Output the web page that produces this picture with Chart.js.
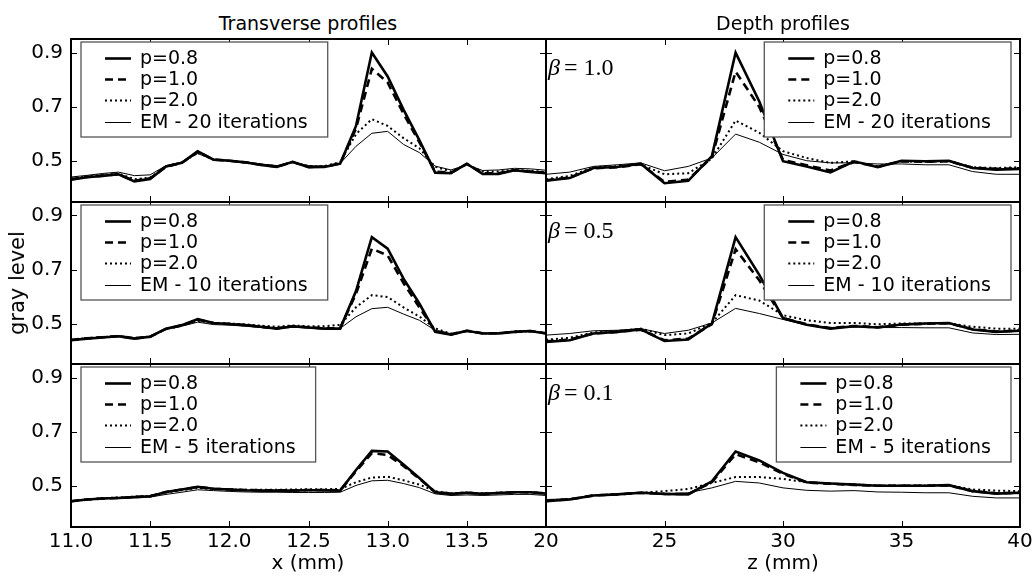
<!DOCTYPE html>
<html>
<head>
<meta charset="utf-8">
<script src="https://cdn.jsdelivr.net/npm/chart.js@4.4.1/dist/chart.umd.min.js"></script>
<style>
  body { margin: 0; background: #fff; }
  #fig { position: relative; width: 1036px; height: 575px; background: #fff; overflow: hidden;
         font-family: 'DejaVu Sans', sans-serif; color: #000; }
  #fig canvas { position: absolute; }
  .lbl { position: absolute; transform: translate(-50%, -50%); white-space: nowrap; }
</style>
</head>
<body>
<div id="fig">
  <canvas id="c0"></canvas><canvas id="c1"></canvas>
  <canvas id="c2"></canvas><canvas id="c3"></canvas>
  <canvas id="c4"></canvas><canvas id="c5"></canvas>
  <div class="lbl" style="left:308px;top:23px;font-size:19px">Transverse profiles</div>
  <div class="lbl" style="left:783px;top:23px;font-size:19px">Depth profiles</div>
  <div class="lbl" style="left:308px;top:562px;font-size:20px">x (mm)</div>
  <div class="lbl" style="left:783px;top:562px;font-size:20px">z (mm)</div>
  <div class="lbl" style="left:17px;top:283px;font-size:21px;transform:translate(-50%,-50%) rotate(-90deg)">gray level</div>
</div>
<script>
// positions along the profiles
const xTrans = [11.0, 11.1, 11.2, 11.3, 11.4, 11.5, 11.6, 11.7, 11.8, 11.9, 12.0, 12.1, 12.2, 12.3, 12.4, 12.5,
                12.6, 12.7, 12.8, 12.9, 13.0, 13.1, 13.2, 13.3, 13.4, 13.5, 13.6, 13.7, 13.8, 13.9, 14.0];
const zDepth = [20, 21, 22, 23, 24, 25, 26, 27, 28, 29, 30, 31, 32, 33, 34, 35, 36, 37, 38, 39, 40];

// tick values / labels
const xTransTicks = [11.0, 11.5, 12.0, 12.5, 13.0, 13.5, 14.0];
const xTransTickLabels = ['11.0', '11.5', '12.0', '12.5', '13.0', '13.5', ''];
const zDepthTicks = [20, 25, 30, 35, 40];
const zDepthTickLabels = ['20', '25', '30', '35', '40'];
const yTicks = [0.5, 0.7, 0.9];
const yTickLabels = ['0.5', '0.7', '0.9'];

const pLabels = ['p=0.8', 'p=1.0', 'p=2.0'];
const emLabels = ['EM - 20 iterations', 'EM - 10 iterations', 'EM - 5 iterations'];
const betaLabels = ['1.0', '0.5', '0.1'];

// transverse, beta = 1.0
const tr10_p08 = [0.432,0.441,0.446,0.452,0.426,0.435,0.481,0.494,0.537,0.506,0.502,0.496,0.486,0.479,0.498,0.478,0.479,0.491,0.630,0.900,0.812,0.690,0.578,0.458,0.456,0.491,0.453,0.453,0.467,0.461,0.456];
const tr10_p10 = [0.434,0.442,0.447,0.452,0.428,0.437,0.480,0.494,0.535,0.506,0.502,0.496,0.487,0.480,0.497,0.479,0.480,0.492,0.620,0.840,0.790,0.675,0.570,0.462,0.458,0.490,0.456,0.456,0.467,0.462,0.458];
const tr10_p20 = [0.437,0.444,0.450,0.455,0.434,0.440,0.481,0.494,0.531,0.506,0.502,0.496,0.488,0.482,0.496,0.482,0.482,0.497,0.600,0.655,0.630,0.585,0.548,0.480,0.462,0.488,0.462,0.462,0.469,0.465,0.460];
const tr10_em = [0.442,0.448,0.455,0.460,0.447,0.450,0.484,0.497,0.528,0.507,0.503,0.497,0.490,0.484,0.497,0.484,0.482,0.492,0.555,0.603,0.610,0.562,0.532,0.482,0.468,0.487,0.466,0.468,0.474,0.472,0.467];

// transverse, beta = 0.5
const tr05_p08 = [0.438,0.444,0.448,0.453,0.444,0.451,0.481,0.494,0.516,0.502,0.498,0.494,0.488,0.481,0.490,0.485,0.481,0.481,0.620,0.820,0.777,0.666,0.574,0.469,0.459,0.473,0.463,0.463,0.469,0.472,0.463];
const tr05_p10 = [0.439,0.445,0.449,0.453,0.445,0.451,0.480,0.493,0.514,0.502,0.498,0.494,0.488,0.482,0.490,0.486,0.482,0.483,0.610,0.777,0.752,0.650,0.560,0.472,0.460,0.473,0.464,0.464,0.469,0.472,0.464];
const tr05_p20 = [0.440,0.446,0.450,0.454,0.447,0.452,0.480,0.492,0.510,0.502,0.500,0.497,0.492,0.488,0.493,0.490,0.490,0.495,0.560,0.605,0.598,0.560,0.526,0.482,0.462,0.472,0.463,0.465,0.470,0.471,0.465];
const tr05_em = [0.440,0.446,0.450,0.455,0.447,0.452,0.478,0.490,0.505,0.496,0.494,0.490,0.485,0.480,0.486,0.483,0.480,0.482,0.525,0.555,0.560,0.535,0.512,0.475,0.462,0.471,0.464,0.465,0.470,0.471,0.466];

// transverse, beta = 0.1
const tr01_p08 = [0.445,0.451,0.455,0.457,0.460,0.463,0.479,0.488,0.498,0.491,0.488,0.485,0.484,0.484,0.484,0.485,0.485,0.484,0.560,0.630,0.628,0.580,0.530,0.478,0.472,0.476,0.472,0.475,0.478,0.478,0.473];
const tr01_p10 = [0.445,0.451,0.455,0.457,0.460,0.463,0.479,0.488,0.497,0.491,0.488,0.486,0.485,0.485,0.485,0.486,0.486,0.485,0.555,0.622,0.615,0.575,0.528,0.479,0.472,0.476,0.472,0.475,0.478,0.478,0.473];
const tr01_p20 = [0.445,0.451,0.456,0.459,0.462,0.465,0.477,0.485,0.494,0.490,0.488,0.487,0.487,0.487,0.488,0.489,0.489,0.490,0.515,0.532,0.535,0.522,0.506,0.482,0.474,0.477,0.474,0.476,0.479,0.478,0.475];
const tr01_em = [0.444,0.450,0.454,0.456,0.458,0.460,0.470,0.478,0.487,0.484,0.481,0.479,0.478,0.478,0.477,0.477,0.477,0.478,0.503,0.520,0.522,0.510,0.495,0.472,0.466,0.468,0.466,0.468,0.470,0.470,0.466];

// depth, beta = 1.0
const dp10_p08 = [0.428,0.438,0.475,0.479,0.491,0.419,0.428,0.519,0.900,0.720,0.500,0.481,0.459,0.500,0.478,0.502,0.500,0.502,0.475,0.469,0.472];
const dp10_p10 = [0.430,0.440,0.474,0.478,0.489,0.424,0.432,0.515,0.830,0.700,0.505,0.485,0.466,0.497,0.480,0.500,0.498,0.500,0.476,0.472,0.474];
const dp10_p20 = [0.434,0.446,0.478,0.482,0.488,0.452,0.456,0.510,0.650,0.605,0.537,0.512,0.494,0.500,0.481,0.500,0.498,0.500,0.478,0.475,0.478];
const dp10_em = [0.452,0.460,0.481,0.487,0.494,0.465,0.481,0.512,0.600,0.570,0.525,0.502,0.494,0.494,0.490,0.490,0.487,0.487,0.462,0.452,0.452];

// depth, beta = 0.5
const dp05_p08 = [0.432,0.438,0.463,0.469,0.478,0.435,0.441,0.500,0.820,0.680,0.520,0.495,0.481,0.490,0.485,0.496,0.500,0.502,0.478,0.469,0.473];
const dp05_p10 = [0.434,0.440,0.463,0.469,0.477,0.438,0.444,0.498,0.775,0.660,0.520,0.497,0.483,0.491,0.486,0.496,0.499,0.501,0.479,0.470,0.474];
const dp05_p20 = [0.440,0.447,0.467,0.472,0.481,0.457,0.463,0.502,0.605,0.585,0.531,0.512,0.502,0.502,0.497,0.500,0.500,0.500,0.488,0.481,0.481];
const dp05_em = [0.457,0.463,0.473,0.475,0.481,0.463,0.475,0.502,0.556,0.537,0.515,0.494,0.485,0.488,0.485,0.485,0.484,0.484,0.465,0.459,0.460];

// depth, beta = 0.1
const dp01_p08 = [0.445,0.451,0.466,0.470,0.476,0.472,0.470,0.518,0.628,0.595,0.549,0.515,0.510,0.506,0.502,0.502,0.502,0.504,0.482,0.473,0.476];
const dp01_p10 = [0.446,0.452,0.466,0.470,0.476,0.472,0.471,0.515,0.618,0.588,0.546,0.514,0.509,0.505,0.502,0.502,0.502,0.503,0.482,0.474,0.476];
const dp01_p20 = [0.447,0.453,0.467,0.471,0.476,0.482,0.490,0.512,0.534,0.534,0.527,0.515,0.510,0.506,0.503,0.503,0.503,0.504,0.488,0.484,0.482];
const dp01_em = [0.451,0.454,0.466,0.470,0.475,0.472,0.476,0.494,0.518,0.512,0.494,0.485,0.482,0.484,0.479,0.478,0.476,0.476,0.463,0.457,0.457];

// line styles: p=0.8 thick, p=1.0 dashed, p=2.0 dotted, EM thin
const styles = [
  { borderWidth: 2.6, borderDash: [] },
  { borderWidth: 2.6, borderDash: [8, 5] },
  { borderWidth: 2, borderDash: [2, 3] },
  { borderWidth: 1, borderDash: [] }
];

const plotTops = [39, 202, 364];
const plotBottoms = [202, 364, 527];

// draws spines, inward ticks, the boxed legend and the beta label
const framePlugin = {
  id: 'frame',
  afterDatasetsDraw(chart, args, o) {
    const { ctx, chartArea: a, scales: { x, y } } = chart;
    ctx.save();
    ctx.strokeStyle = '#000';
    ctx.lineWidth = 1;
    ctx.beginPath();
    o.xTicks.forEach(v => {
      const px = Math.round(x.getPixelForValue(v)) + 0.5;
      ctx.moveTo(px, a.bottom); ctx.lineTo(px, a.bottom - 6);
      ctx.moveTo(px, a.top); ctx.lineTo(px, a.top + 6);
    });
    yTicks.forEach(v => {
      const py = Math.round(y.getPixelForValue(v)) + 0.5;
      ctx.moveTo(a.left, py); ctx.lineTo(a.left + 6, py);
      ctx.moveTo(a.right, py); ctx.lineTo(a.right - 6, py);
    });
    ctx.stroke();

    // legend
    ctx.font = '19px "DejaVu Sans"';
    const dsets = chart.data.datasets;
    const tw = Math.max(...dsets.map(d => ctx.measureText(d.label).width));
    const bw = 59 + tw + 20, bh = 95;
    const bx = o.side === 'left' ? a.left + 10 : a.right - 9 - bw;
    const by = a.top + 3;
    ctx.fillStyle = '#fff';
    ctx.fillRect(bx, by, bw, bh);
    ctx.strokeStyle = '#555';
    ctx.lineWidth = 1.3;
    ctx.strokeRect(bx, by, bw, bh);
    dsets.forEach((d, i) => {
      const cy = Math.round(a.top + 19 + i * 21.2) + 0.5;
      ctx.strokeStyle = '#000';
      ctx.lineWidth = d.borderWidth;
      ctx.setLineDash(d.borderDash);
      ctx.beginPath();
      ctx.moveTo(bx + 24, cy); ctx.lineTo(bx + 50, cy);
      ctx.stroke();
      ctx.setLineDash([]);
      ctx.fillStyle = '#000';
      ctx.textBaseline = 'middle';
      ctx.textAlign = 'left';
      ctx.fillText(d.label, bx + 59, cy + 1);
    });

    // beta label
    if (o.beta) {
      ctx.fillStyle = '#000';
      ctx.textBaseline = 'middle';
      ctx.font = 'italic 24px "Liberation Serif"';
      ctx.fillText('\u03b2', a.left + 2, a.top + 30);
      const bwid = ctx.measureText('\u03b2').width;
      ctx.font = '24px "Liberation Serif"';
      ctx.fillText(' = ' + o.beta, a.left + 2 + bwid - 2, a.top + 30);
    }

    // spines
    ctx.strokeStyle = '#000';
    ctx.lineWidth = 2;
    ctx.strokeRect(a.left, a.top, a.width, a.height);
    ctx.restore();
  }
};

function makePanel(idx, row, col, xs, series, emLabel, beta) {
  const isLeft = col === 0;
  const isBottom = row === 2;
  const cv = document.getElementById('c' + idx);
  const cLeft = isLeft ? 0 : 520;
  const cWidth = isLeft ? 548 : 516;
  const cTop = plotTops[row] - 2;
  const cHeight = isBottom ? 575 - cTop : plotBottoms[row] - plotTops[row] + 4;
  cv.width = cWidth; cv.height = cHeight;
  cv.style.left = cLeft + 'px'; cv.style.top = cTop + 'px';
  cv.style.width = cWidth + 'px'; cv.style.height = cHeight + 'px';

  const labels = pLabels.concat([emLabel]);
  const datasets = series.map((vals, i) => ({
    label: labels[i],
    data: vals.map((v, k) => ({ x: xs[k], y: v })),
    borderColor: '#000',
    borderWidth: styles[i].borderWidth,
    borderDash: styles[i].borderDash,
    pointRadius: 0,
    tension: 0,
    fill: false
  }));

  const xTicks = isLeft ? xTransTicks : zDepthTicks;
  const xTickLabels = isLeft ? xTransTickLabels : zDepthTickLabels;
  const noPad = s => { s.paddingTop = 0; s.paddingBottom = 0; s.paddingLeft = 0; s.paddingRight = 0; };

  new Chart(cv, {
    type: 'line',
    data: { datasets },
    options: {
      responsive: false,
      animation: false,
      devicePixelRatio: 1,
      layout: { padding: { left: isLeft ? 0 : 26, right: isLeft ? 2 : 16, top: 2, bottom: isBottom ? 0 : 2 } },
      plugins: {
        legend: { display: false },
        tooltip: { enabled: false },
        frame: { xTicks, side: isLeft ? 'left' : 'right', beta: isLeft ? null : beta }
      },
      scales: {
        x: {
          type: 'linear',
          min: isLeft ? 11.0 : 20,
          max: isLeft ? 14.0 : 40,
          display: isBottom,
          grid: { display: false, drawTicks: false },
          border: { display: false },
          afterBuildTicks: s => { s.ticks = xTicks.map(v => ({ value: v })); },
          afterFit: s => { if (isBottom) { s.height = 48; noPad(s); } },
          ticks: {
            padding: 3, autoSkip: false, maxRotation: 0, color: '#000',
            font: { family: 'DejaVu Sans', size: 20 },
            callback: (v, i) => xTickLabels[i]
          }
        },
        y: {
          type: 'linear',
          min: 0.35,
          max: 0.95,
          display: isLeft,
          grid: { display: false, drawTicks: false },
          border: { display: false },
          afterBuildTicks: s => { s.ticks = yTicks.map(v => ({ value: v })); },
          afterFit: s => { if (isLeft) { s.width = 71; noPad(s); } },
          ticks: {
            padding: 8, color: '#000',
            font: { family: 'DejaVu Sans', size: 20 },
            callback: (v, i) => yTickLabels[i]
          }
        }
      }
    },
    plugins: [framePlugin]
  });
}

makePanel(0, 0, 0, xTrans, [tr10_p08, tr10_p10, tr10_p20, tr10_em], emLabels[0], betaLabels[0]);
makePanel(1, 0, 1, zDepth, [dp10_p08, dp10_p10, dp10_p20, dp10_em], emLabels[0], betaLabels[0]);
makePanel(2, 1, 0, xTrans, [tr05_p08, tr05_p10, tr05_p20, tr05_em], emLabels[1], betaLabels[1]);
makePanel(3, 1, 1, zDepth, [dp05_p08, dp05_p10, dp05_p20, dp05_em], emLabels[1], betaLabels[1]);
makePanel(4, 2, 0, xTrans, [tr01_p08, tr01_p10, tr01_p20, tr01_em], emLabels[2], betaLabels[2]);
makePanel(5, 2, 1, zDepth, [dp01_p08, dp01_p10, dp01_p20, dp01_em], emLabels[2], betaLabels[2]);
</script>
</body>
</html>
